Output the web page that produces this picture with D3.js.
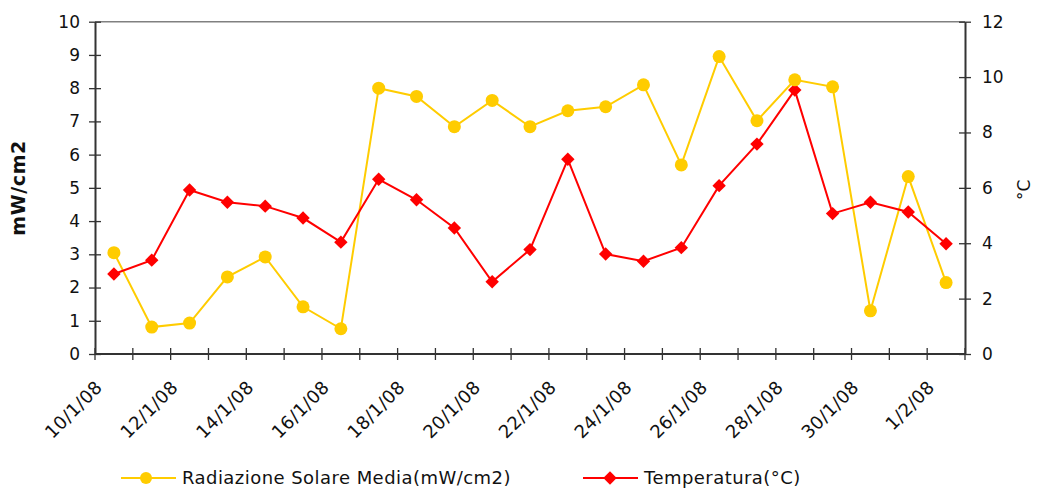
<!DOCTYPE html>
<html><head><meta charset="utf-8">
<script src="https://cdn.jsdelivr.net/npm/d3@7"></script>
<style>body{margin:0;background:#fff;} svg{display:block;}</style>
</head><body>
<script>
const dates = ["10/1/08","11/1/08","12/1/08","13/1/08","14/1/08","15/1/08","16/1/08","17/1/08","18/1/08","19/1/08","20/1/08","21/1/08","22/1/08","23/1/08","24/1/08","25/1/08","26/1/08","27/1/08","28/1/08","29/1/08","30/1/08","31/1/08","1/2/08"];
const radiazione = [3.05,0.81,0.93,2.32,2.92,1.42,0.76,8.0,7.75,6.84,7.63,6.84,7.32,7.44,8.10,5.69,8.95,7.02,8.25,8.04,1.30,5.34,2.15];
const temperatura = [2.89,3.39,5.92,5.48,5.34,4.91,4.04,6.31,5.57,4.55,2.61,3.77,7.03,3.61,3.35,3.84,6.08,7.58,9.53,5.07,5.48,5.13,3.98];
const leftTicks = [0,1,2,3,4,5,6,7,8,9,10];
const rightTicks = [0,2,4,6,8,10,12];
const seriesNames = ["Radiazione Solare Media(mW/cm2)","Temperatura(°C)"];

const W=1040,H=488;
const m={l:95,r:75,t:21.7,b:134};
const font='"DejaVu Sans", Verdana, sans-serif';
const svg=d3.select("body").append("svg").attr("width",W).attr("height",H).style("font-family",font);

const x=d3.scaleBand().domain(dates).range([m.l,W-m.r]).padding(0);
const yL=d3.scaleLinear().domain([0,10]).range([H-m.b,m.t]);
const yR=d3.scaleLinear().domain([0,12]).range([H-m.b,m.t]);
const cx=d=>x(d)+x.bandwidth()/2;

// top border
svg.append("line").attr("x1",m.l).attr("x2",W-m.r).attr("y1",m.t).attr("y2",m.t).attr("stroke","#808080").attr("stroke-width",1.5);

const axisColor="#333";
// left axis
const gl=svg.append("g").attr("transform",`translate(${m.l},0)`).call(d3.axisLeft(yL).tickValues(leftTicks).tickSize(0).tickPadding(15).tickFormat(d3.format("d")));
gl.select(".domain").attr("stroke",axisColor).attr("stroke-width",2);
gl.selectAll(".tick text").attr("font-size",17).attr("fill","#111").attr("font-family",font);
gl.selectAll(".tick").append("line").attr("x1",-6).attr("x2",6).attr("stroke",axisColor).attr("stroke-width",1.3);

// right axis
const gr=svg.append("g").attr("transform",`translate(${W-m.r},0)`).call(d3.axisRight(yR).tickValues(rightTicks).tickSize(0).tickPadding(17).tickFormat(d3.format("d")));
gr.select(".domain").attr("stroke",axisColor).attr("stroke-width",2);
gr.selectAll(".tick text").attr("font-size",17).attr("fill","#111").attr("font-family",font);
gr.selectAll(".tick").append("line").attr("x1",-6).attr("x2",6).attr("stroke",axisColor).attr("stroke-width",1.3);

// bottom axis
const tickPos=dates.map(d=>x(d)).concat([W-m.r]);
const gb=svg.append("g").attr("transform",`translate(0,${H-m.b})`);
gb.append("line").attr("x1",m.l).attr("x2",W-m.r).attr("stroke",axisColor).attr("stroke-width",2);
gb.selectAll("line.t").data(tickPos).join("line").attr("class","t").attr("x1",d=>d).attr("x2",d=>d).attr("y1",-6).attr("y2",6).attr("stroke",axisColor).attr("stroke-width",1.3);
gb.selectAll("text").data(dates.filter((d,i)=>i%2===0)).join("text")
  .attr("transform",d=>`translate(${x(d)+4},${30}) rotate(-45)`)
  .attr("text-anchor","end").attr("dy","0.35em").attr("font-size",18).attr("letter-spacing",0.4).attr("fill","#111").text(d=>d);

// axis titles
svg.append("text").attr("transform",`translate(25,${(m.t+H-m.b)/2}) rotate(-90)`).attr("text-anchor","middle")
  .attr("font-size",19).attr("letter-spacing",0.6).attr("font-weight","bold").attr("fill","#111").text("mW/cm2");
svg.append("text").attr("transform",`translate(1030,${(m.t+H-m.b)/2+2}) rotate(-90)`).attr("text-anchor","middle")
  .attr("font-size",17).attr("fill","#111").text("°C");

const yellow="#FFCC00",red="#FF0000";
const lineL=d3.line().x((d,i)=>cx(dates[i])).y(d=>yL(d));
const lineR=d3.line().x((d,i)=>cx(dates[i])).y(d=>yR(d));
svg.append("path").datum(radiazione).attr("d",lineL).attr("fill","none").attr("stroke",yellow).attr("stroke-width",2);
svg.append("path").datum(temperatura).attr("d",lineR).attr("fill","none").attr("stroke",red).attr("stroke-width",2);
const diamond=d3.symbol().type(d3.symbolSquare).size(90);
svg.selectAll("path.dm").data(temperatura).join("path").attr("class","dm")
  .attr("d",diamond).attr("transform",(d,i)=>`translate(${cx(dates[i])},${yR(d)}) rotate(45)`).attr("fill",red);
svg.selectAll("circle.c").data(radiazione).join("circle").attr("class","c")
  .attr("cx",(d,i)=>cx(dates[i])).attr("cy",d=>yL(d)).attr("r",6.5).attr("fill",yellow);

// legend
const leg=[{x:121,c:yellow,t:seriesNames[0],s:"c"},{x:583,c:red,t:seriesNames[1],s:"d"}];
const ly=478;
leg.forEach(l=>{
  svg.append("line").attr("x1",l.x).attr("x2",l.x+55).attr("y1",ly).attr("y2",ly).attr("stroke",l.c).attr("stroke-width",2);
  if(l.s==="c") svg.append("circle").attr("cx",l.x+25).attr("cy",ly).attr("r",6).attr("fill",l.c);
  else svg.append("path").attr("d",diamond).attr("transform",`translate(${l.x+27},${ly}) rotate(45)`).attr("fill",l.c);
  svg.append("text").attr("x",l.x+61).attr("y",ly).attr("dy","0.35em").attr("font-size",18).attr("letter-spacing",0.45).attr("fill","#111").text(l.t);
});
</script>
</body></html>
